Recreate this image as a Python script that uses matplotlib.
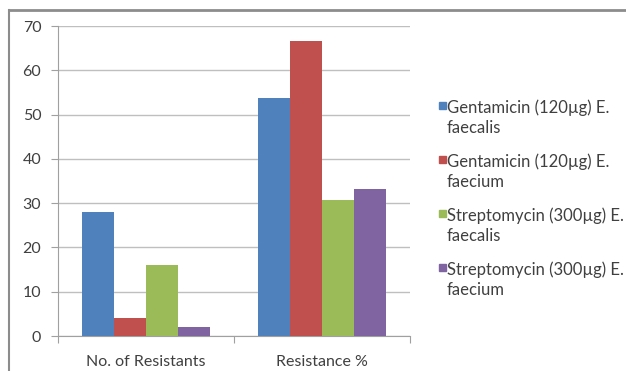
import numpy as np
import matplotlib
matplotlib.use("Agg")
import matplotlib.pyplot as plt
from matplotlib.patches import Rectangle
from matplotlib.lines import Line2D

# data
categories = ["No. of Resistants", "Resistance %"]
series_labels = [
    "Gentamicin (120\u00b5g) E.\nfaecalis",
    "Gentamicin (120\u00b5g) E.\nfaecium",
    "Streptomycin (300\u00b5g) E.\nfaecalis",
    "Streptomycin (300\u00b5g) E.\nfaecium",
]
gent_faecalis = [28, 53.8]
gent_faecium = [4, 66.7]
strep_faecalis = [16, 30.8]
strep_faecium = [2, 33.3]
values = [gent_faecalis, gent_faecium, strep_faecalis, strep_faecium]
colors = ["#4F81BD", "#C0504D", "#9BBB59", "#8064A2"]
yticks = [0, 10, 20, 30, 40, 50, 60, 70]

plt.rcParams["font.family"] = ["Lato", "DejaVu Sans"]
textcol = "#404040"

fig = plt.figure(figsize=(6.26, 3.71), dpi=100)
ax = fig.add_axes([58 / 626, 1 - 336 / 371, 352 / 626, 310 / 371])

x = np.arange(len(categories))
w = 0.182
for i, (vals, col) in enumerate(zip(values, colors)):
    ax.bar(x + (i - 1.5) * w, vals, width=w, color=col, zorder=3, linewidth=0)

ax.set_xlim(-0.5, 1.5)
ax.set_ylim(0, 70)
ax.set_yticks(yticks)
ax.set_yticklabels([str(t) for t in yticks], fontsize=11.5, color=textcol)
ax.yaxis.grid(True, color="#BFBFBF", linewidth=1.0, zorder=0)
ax.set_axisbelow(True)
ax.tick_params(axis="y", length=5, color="#A0A0A0", pad=7)

# category ticks at boundaries, labels at centres
ax.set_xticks([-0.5, 0.5, 1.5])
ax.set_xticklabels([])
ax.set_xticks(x, minor=True)
ax.set_xticklabels(categories, minor=True, fontsize=11.5, color=textcol)
ax.tick_params(axis="x", which="major", length=5, color="#A0A0A0")
ax.tick_params(axis="x", which="minor", length=0, pad=14)

for s in ["top", "right"]:
    ax.spines[s].set_visible(False)
ax.spines["left"].set_color("#A0A0A0")
ax.spines["bottom"].set_color("#A0A0A0")

# legend drawn by hand so the marker sits on the first line
for i, (lab, col) in enumerate(zip(series_labels, colors)):
    yc = 1 - (105 + i * 54) / 371
    fig.patches.append(Rectangle((438.5 / 626, yc - 3.5 / 371), 7 / 626, 7 / 371,
                                 transform=fig.transFigure, color=col))
    fig.text(447 / 626, yc + 6 / 371, lab, fontsize=12, color=textcol,
             va="top", ha="left", linespacing=1.35)

# chart frame (top and left edges visible)
fig.lines.append(Line2D([9 / 626, 1], [1 - 10 / 371, 1 - 10 / 371],
                        transform=fig.transFigure, color="#8C8C8C", linewidth=2))
fig.lines.append(Line2D([9 / 626, 9 / 626], [0, 1 - 10 / 371],
                        transform=fig.transFigure, color="#8C8C8C", linewidth=1.5))

fig.savefig("out.png", dpi=100)
